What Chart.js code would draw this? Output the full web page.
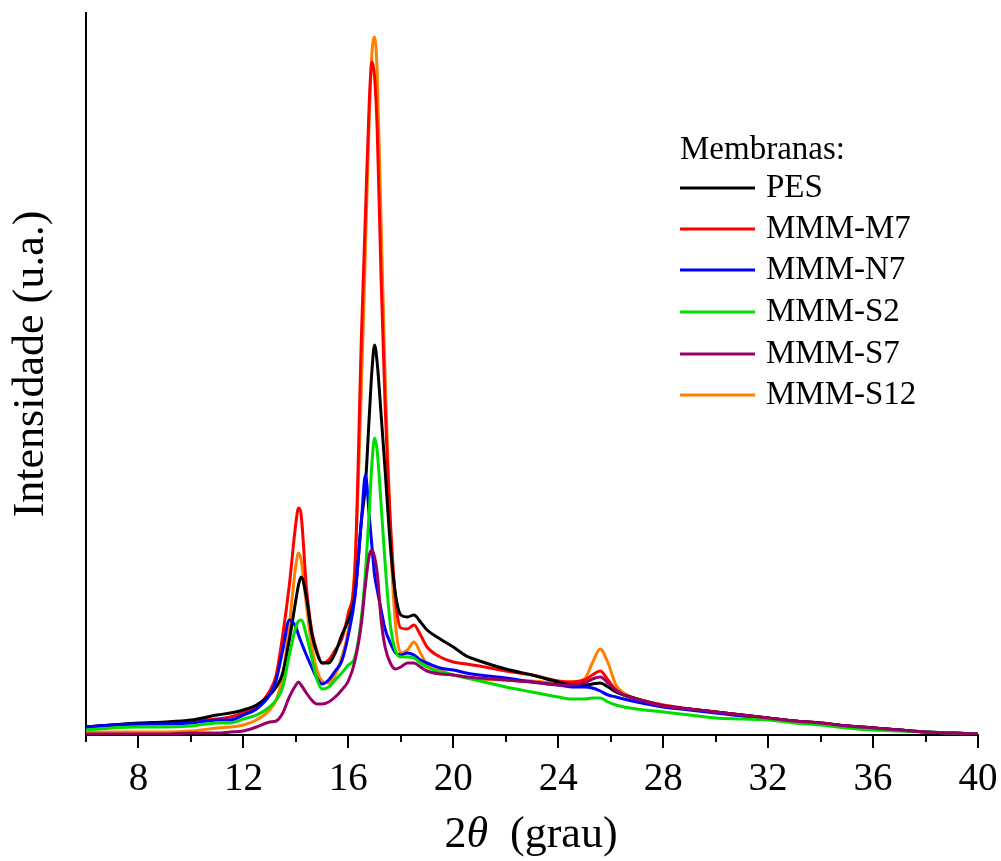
<!DOCTYPE html>
<html>
<head>
<meta charset="utf-8">
<script src="https://cdn.jsdelivr.net/npm/chart.js"></script>
<style>
  html, body { margin: 0; padding: 0; background: #fff; }
  #wrap { width: 1001px; height: 861px; }
</style>
</head>
<body>
<div id="wrap"><canvas id="xrd" width="1001" height="861"></canvas></div>
<script>
// 2theta grid (grau)
const angles = [6, 7, 8, 9, 10, 11, 11.5, 12, 12.5, 13, 13.25, 13.5, 13.75, 14, 14.1, 14.2, 14.4, 14.6, 14.8, 15,
  15.25, 15.5, 15.75, 16, 16.25, 16.5, 16.65, 16.8, 16.9, 17, 17.1, 17.25, 17.4, 17.6, 17.8, 18, 18.25, 18.5, 18.75, 19,
  19.5, 20, 20.5, 21, 22, 23, 24, 24.5, 25, 25.3, 25.6, 25.9, 26.2, 26.5, 27, 28, 29, 30, 31, 32,
  33, 34, 35, 36, 37, 38, 39, 40];

// intensidades (u.a.)
const pes = [8, 10, 12, 13, 15, 20, 22, 25, 30, 40, 48, 62, 95, 135, 150, 158, 138, 102, 82, 72,
  72, 82, 100, 115, 140, 215, 250, 320, 365, 390, 372, 320, 265, 190, 140, 120, 118, 120, 113, 105,
  96, 88, 79, 74, 66, 60, 53, 50, 50, 51, 52, 48, 43, 40, 36, 29, 26, 23, 20, 17,
  14, 12, 9, 7, 5, 3, 2, 1];
const mmmM7 = [8, 10, 11, 12, 14, 16, 18, 22, 28, 44, 60, 100, 150, 212, 227, 220, 148, 105, 84, 72,
  75, 85, 96, 122, 165, 400, 520, 635, 673, 658, 605, 455, 330, 215, 135, 107, 106, 110, 100, 88,
  78, 73, 71, 69, 64, 60, 54, 53, 55, 60, 64, 55, 45, 40, 36, 30, 26, 23, 20, 17,
  14, 12, 9, 7, 5, 3, 2, 1];
const mmmN7 = [8, 10, 11, 11, 12, 15, 15, 20, 26, 40, 55, 85, 115, 108, 100, 93, 80, 68, 57, 51,
  55, 64, 74, 100, 138, 215, 260, 218, 188, 160, 145, 125, 106, 92, 82, 80, 82, 80, 75, 72,
  67, 65, 62, 60, 57, 53, 50, 48, 48, 47, 44, 40, 38, 36, 33, 28, 25, 22, 19, 16,
  14, 11, 9, 7, 5, 3, 2, 1];
const mmmS2 = [5, 7, 8, 8, 9, 12, 12, 16, 20, 28, 35, 48, 80, 108, 114, 115, 100, 78, 56, 46,
  48, 55, 62, 70, 78, 118, 162, 225, 272, 297, 284, 230, 172, 110, 84, 78, 78, 77, 72, 68,
  63, 60, 57, 54, 48, 43, 38, 36, 36, 37, 37, 33, 30, 28, 26, 23, 20, 17, 16, 15,
  12, 10, 7, 5, 4, 3, 2, 1];
const mmmS7 = [1, 1, 1, 1, 2, 2, 3, 4, 8, 13, 14, 22, 38, 50, 53, 50, 42, 35, 31, 31,
  33, 38, 45, 54, 74, 112, 150, 180, 185, 178, 162, 115, 88, 72, 66, 68, 72, 72, 68, 64,
  61, 60, 58, 57, 55, 53, 50, 50, 52, 56, 58, 52, 45, 40, 36, 29, 26, 23, 20, 17,
  14, 12, 9, 7, 5, 3, 2, 1];
const mmmS12 = [3, 3, 3, 3, 4, 7, 8, 10, 15, 25, 35, 60, 110, 170, 182, 175, 130, 90, 65, 54,
  52, 60, 78, 105, 170, 350, 485, 620, 682, 698, 662, 510, 360, 200, 110, 82, 85, 93, 82, 70,
  65, 60, 58, 56, 55, 54, 52, 53, 56, 72, 86, 72, 50, 42, 36, 29, 26, 23, 20, 17,
  14, 12, 9, 7, 5, 3, 2, 1];

const seriesNames = ['PES', 'MMM-M7', 'MMM-N7', 'MMM-S2', 'MMM-S7', 'MMM-S12'];
const seriesColors = ['#000000', '#ff0000', '#0000ff', '#00dd00', '#990066', '#ff8000'];
const seriesValues = [pes, mmmM7, mmmN7, mmmS2, mmmS7, mmmS12];
// draw order: back to front
const drawOrder = [5, 1, 0, 2, 3, 4];

const tickValues = [6, 8, 10, 12, 14, 16, 18, 20, 22, 24, 26, 28, 30, 32, 34, 36, 38, 40];
const tickLabels = ['8', '12', '16', '20', '24', '28', '32', '36', '40'];

const FONT = '"Liberation Serif", "Times New Roman", serif';

const datasets = seriesNames.map((name, i) => ({
  label: name,
  data: angles.map((a, j) => ({ x: a, y: seriesValues[i][j] })),
  borderColor: seriesColors[i],
  backgroundColor: seriesColors[i],
  borderWidth: 3,
  pointRadius: 0,
  cubicInterpolationMode: 'monotone',
  fill: false,
  order: drawOrder.indexOf(i) * -1
}));

// eixos, rótulos e legenda desenhados à mão
const decorPlugin = {
  id: 'decor',
  afterDraw(chart) {
    const ctx = chart.ctx;
    const xs = chart.scales.x;
    const area = chart.chartArea;
    ctx.save();
    ctx.strokeStyle = '#000';
    ctx.fillStyle = '#000';
    ctx.lineWidth = 2;

    // ticks
    tickValues.forEach(v => {
      const px = Math.round(xs.getPixelForValue(v));
      const major = tickLabels.includes(String(v));
      ctx.beginPath();
      ctx.moveTo(px, area.bottom);
      ctx.lineTo(px, area.bottom + (major ? 13 : 7));
      ctx.stroke();
    });

    // tick labels
    ctx.font = '39px ' + FONT;
    ctx.textAlign = 'center';
    ctx.textBaseline = 'alphabetic';
    tickLabels.forEach(t => {
      ctx.fillText(t, xs.getPixelForValue(Number(t)), 790);
    });

    // x title: 2θ (grau)
    ctx.textAlign = 'left';
    const parts = [
      { t: '2', f: '44px ' + FONT },
      { t: '\u03B8', f: 'italic 44px ' + FONT },
      { t: '  (grau)', f: '44px ' + FONT }
    ];
    let total = 0;
    parts.forEach(p => { ctx.font = p.f; total += ctx.measureText(p.t).width; });
    let cx = 531 - total / 2;
    parts.forEach(p => {
      ctx.font = p.f;
      ctx.fillText(p.t, cx, 847);
      cx += ctx.measureText(p.t).width;
    });

    // y title
    ctx.save();
    ctx.translate(43, 364);
    ctx.rotate(-Math.PI / 2);
    ctx.font = '44px ' + FONT;
    ctx.textAlign = 'center';
    ctx.fillText('Intensidade (u.a.)', 0, 0);
    ctx.restore();

    // legenda
    ctx.font = '33px ' + FONT;
    ctx.textAlign = 'left';
    ctx.textBaseline = 'middle';
    ctx.fillText('Membranas:', 680, 150);
    const rowY = [188, 229, 270, 312, 354, 395];
    seriesNames.forEach((name, i) => {
      ctx.strokeStyle = seriesColors[i];
      ctx.lineWidth = 3;
      ctx.beginPath();
      ctx.moveTo(680, rowY[i]);
      ctx.lineTo(755, rowY[i]);
      ctx.stroke();
      ctx.fillStyle = '#000';
      ctx.fillText(name, 766, rowY[i]);
    });
    ctx.restore();
  }
};

new Chart(document.getElementById('xrd'), {
  type: 'line',
  data: { datasets: datasets },
  options: {
    responsive: false,
    animation: false,
    events: [],
    layout: { padding: { top: 13, right: 23, left: 0, bottom: 0 } },
    plugins: { legend: { display: false }, tooltip: { enabled: false } },
    scales: {
      x: {
        type: 'linear',
        min: 6,
        max: 40,
        grid: { display: false, drawTicks: false },
        border: { display: true, color: '#000', width: 2 },
        ticks: { display: false },
        afterFit(scale) { scale.height = 126; }
      },
      y: {
        min: 0,
        max: 722,
        grid: { display: false, drawTicks: false },
        border: { display: true, color: '#000', width: 2 },
        ticks: { display: false },
        afterFit(scale) { scale.width = 86; }
      }
    }
  },
  plugins: [decorPlugin]
});
</script>
</body>
</html>
